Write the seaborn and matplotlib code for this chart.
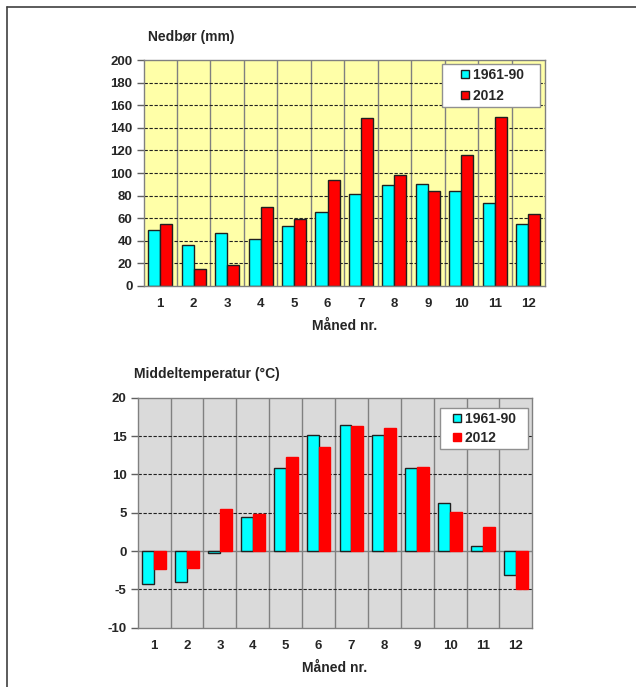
import matplotlib
matplotlib.use("Agg")
import matplotlib.pyplot as plt
from matplotlib.lines import Line2D
import numpy as np
import pandas as pd
import seaborn as sns

months = [str(i) for i in range(1, 13)]
series_names = ["1961-90", "2012"]
precip_normal = [49, 36, 47, 41, 53, 65, 81, 89, 90, 84, 73, 55]
precip_2012 = [54.5, 14.5, 18, 70, 59, 94, 149, 98, 84, 116, 150, 64]
temp_normal = [-4.3, -4.0, -0.2, 4.5, 10.8, 15.1, 16.4, 15.1, 10.8, 6.3, 0.7, -3.1]
temp_2012 = [-2.4, -2.2, 5.5, 4.8, 12.2, 13.6, 16.3, 16.0, 11.0, 5.1, 3.1, -5.0]

precip_yticks = list(range(0, 201, 20))
temp_yticks = list(range(-10, 21, 5))

CYAN = "#00FFFF"
RED = "#FF0000"

sns.set_theme(style="white")
plt.rcParams['font.family'] = ['Liberation Sans', 'DejaVu Sans']
plt.rcParams['font.weight'] = 'bold'

fig = plt.figure(figsize=(6.36, 6.87), dpi=100)
W, H = 636, 687


def make_df(a, b):
    return pd.DataFrame({
        "month": months * 2,
        "series": [series_names[0]] * 12 + [series_names[1]] * 12,
        "value": list(a) + list(b),
    })


def style_axes(ax, bg, yticks, ylim, title, title_x, title_y, red_edge, leg_anchor,
               hlen, htpad, lspace, pad_spaces):
    ax.set_facecolor(bg)
    ax.set_xlim(-0.5, 11.5)
    ax.set_ylim(*ylim)
    ax.set_yticks(yticks)
    ax.set_yticklabels([str(t) for t in yticks], fontsize=9.5, fontweight='bold')
    ax.set_xticks(range(12))
    ax.set_xticklabels(months, fontsize=9.5, fontweight='bold')
    ax.set_xticks(np.arange(-0.5, 12, 1.0), minor=True)
    ax.tick_params(axis='x', which='major', length=0, pad=9)
    ax.tick_params(axis='x', which='minor', length=5, color='#606060', width=1, direction='out')
    ax.tick_params(axis='y', which='major', length=5, color='#606060', width=1, direction='out', pad=3, left=True)
    ax.grid(False)
    for x in np.arange(0.5, 11.5, 1.0):
        ax.axvline(x, color='#808080', lw=1.0, zorder=0.5)
    for y in yticks:
        if y != yticks[0] and y != yticks[-1] and y != 0:
            ax.axhline(y, color='#202020', lw=0.8, ls=(0, (3, 1.5)), zorder=0.6)
    if ylim[0] < 0:
        ax.axhline(0, color='#808080', lw=1.0, zorder=0.6)
    for s in ax.spines.values():
        s.set_visible(True)
        s.set_color('#808080')
        s.set_linewidth(1.0)
    ax.set_xlabel("Måned nr.", fontsize=10, fontweight='bold', labelpad=6)
    ax.set_ylabel("")
    fig.text(title_x / W, 1 - title_y / H, title, fontsize=10, fontweight='bold',
             ha='left', va='center')
    for p in ax.patches:
        p.set_zorder(2)
    old = ax.get_legend()
    if old is not None:
        old.remove()
    handles = [
        Line2D([], [], ls='none', marker='s', markersize=5.5, markerfacecolor=CYAN,
               markeredgecolor='#202020', markeredgewidth=1.0),
        Line2D([], [], ls='none', marker='s', markersize=5.5, markerfacecolor=RED,
               markeredgecolor='#202020' if red_edge else RED, markeredgewidth=1.0),
    ]
    labels = [n + " " * pad_spaces for n in series_names]
    leg = ax.legend(handles, labels, loc='upper right', bbox_to_anchor=leg_anchor, frameon=True,
                    fancybox=False, edgecolor='#909090', facecolor='white',
                    framealpha=1, handlelength=hlen, handletextpad=htpad,
                    borderpad=0.3, labelspacing=lspace, borderaxespad=0,
                    prop={'size': 10, 'weight': 'bold'})
    leg.get_frame().set_linewidth(1.0)
    leg.set_zorder(5)


# Top: precipitation
ax1 = fig.add_axes([143.5 / W, 1 - 285.7 / H, (545 - 143.5) / W, (285.7 - 60.3) / H])
sns.barplot(data=make_df(precip_normal, precip_2012), x="month", y="value", hue="series",
            palette=[CYAN, RED], width=0.72, gap=0, edgecolor='#202020',
            linewidth=1.0, saturation=1, ax=ax1)
style_axes(ax1, '#FFFFA8', precip_yticks, (0, 200), "Nedbør (mm)", 148, 37, True,
           (0.9875, 0.984), 2.66, -0.72, 0.5, 3)

# Bottom: temperature
ax2 = fig.add_axes([137.7 / W, 1 - 627.7 / H, (532.3 - 137.7) / W, 230 / H])
sns.barplot(data=make_df(temp_normal, temp_2012), x="month", y="value", hue="series",
            palette=[CYAN, RED], width=0.72, gap=0, edgecolor='#202020',
            linewidth=1.0, saturation=1, ax=ax2)
for p in ax2.patches:
    fc = p.get_facecolor()
    if fc[1] < 0.5 and fc[0] > 0.9:
        p.set_edgecolor(RED)
style_axes(ax2, '#DADADA', temp_yticks, (-10, 20), "Middeltemperatur (°C)", 134, 374, False,
           (0.989, 0.955), 1.94, -0.42, 0.35, 2)

# Outer frame lines (top and left)
fig.add_artist(Line2D([6.5 / W, 1], [1 - 6.5 / H, 1 - 6.5 / H], color='#404040', lw=1.2,
                      transform=fig.transFigure))
fig.add_artist(Line2D([6.5 / W, 6.5 / W], [0, 1 - 6.5 / H], color='#404040', lw=1.2,
                      transform=fig.transFigure))

fig.savefig("out.png", dpi=100)
